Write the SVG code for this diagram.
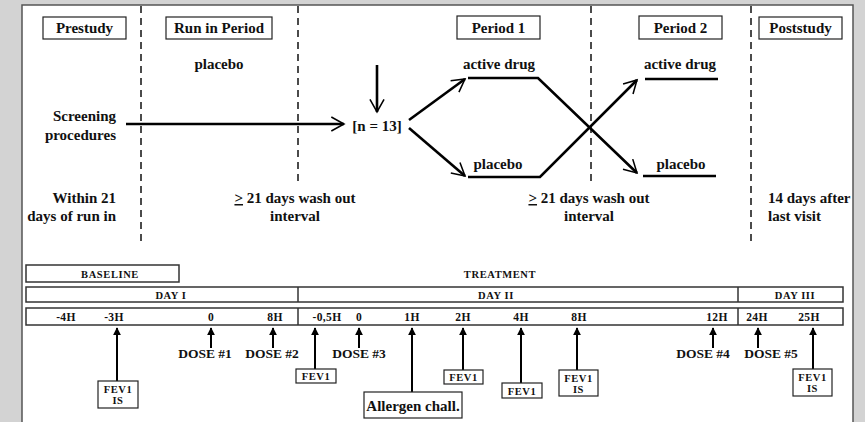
<svg xmlns="http://www.w3.org/2000/svg" width="865" height="422" viewBox="0 0 865 422">
<defs>
<style>
.hdr{font-family:"Liberation Serif",serif;font-weight:bold;font-size:15px;fill:#111}
.lbl{font-family:"Liberation Serif",serif;font-weight:bold;font-size:15px;fill:#111}
.sc{font-family:"Liberation Serif",serif;font-weight:bold;font-size:10.5px;fill:#111;letter-spacing:0.6px}
.hr{font-family:"Liberation Serif",serif;font-weight:bold;font-size:11.5px;fill:#111;letter-spacing:0.4px}
.dose{font-family:"Liberation Serif",serif;font-weight:bold;font-size:13.5px;fill:#111}
.box{fill:#fff;stroke:#222;stroke-width:1.2}
.bar{fill:#fff;stroke:#333;stroke-width:1.5}
.dash{stroke:#111;stroke-width:1.5;stroke-dasharray:7,5;fill:none}
.thick{stroke:#000;stroke-width:2.6;fill:none}
.thin{stroke:#000;stroke-width:2;fill:none}
</style>
<marker id="chev" viewBox="0 0 12 12" refX="10" refY="6" markerWidth="6.5" markerHeight="6.5" orient="auto" markerUnits="strokeWidth">
<path d="M1,1 L10,6 L1,11" fill="none" stroke="#000" stroke-width="1.1"/>
</marker>
<marker id="tri" viewBox="0 0 10 10" refX="9" refY="5" markerWidth="4" markerHeight="4" orient="auto" markerUnits="strokeWidth">
<path d="M0,0 L10,5 L0,10 z" fill="#000"/>
</marker>
</defs>
<rect x="0" y="0" width="865" height="422" fill="#d3d3d3"/>
<rect x="22" y="5" width="831" height="420" fill="#fff" stroke="#555" stroke-width="1.5"/>

<g id="dividers">
<line class="dash" x1="141" y1="6" x2="141" y2="246"/>
<line class="dash" x1="298" y1="6" x2="298" y2="186"/>
<line class="dash" x1="591" y1="6" x2="591" y2="186"/>
<line class="dash" x1="751" y1="6" x2="751" y2="246"/>
</g>

<g id="prestudy"><rect class="box" x="43" y="17" width="83" height="22"/><text class="hdr" x="84.5" y="33" text-anchor="middle">Prestudy</text></g>
<g id="runin"><rect class="box" x="166" y="17" width="106" height="22"/><text class="hdr" x="219" y="33" text-anchor="middle">Run in Period</text></g>
<g id="period1"><rect class="box" x="457" y="16" width="83" height="23"/><text class="hdr" x="498.5" y="33" text-anchor="middle">Period 1</text></g>
<g id="period2"><rect class="box" x="639" y="16" width="83" height="23"/><text class="hdr" x="680.5" y="33" text-anchor="middle">Period 2</text></g>
<g id="poststudy"><rect class="box" x="759" y="17" width="83" height="22"/><text class="hdr" x="800.5" y="33" text-anchor="middle">Poststudy</text></g>

<g id="placebo-run"><text class="lbl" x="219" y="69" text-anchor="middle">placebo</text></g>
<g id="screening"><text class="lbl" x="116" y="121" text-anchor="end">Screening</text><text class="lbl" x="116" y="140" text-anchor="end">procedures</text></g>
<g id="n13"><text class="lbl" x="377" y="131" text-anchor="middle" font-weight="normal">[n = 13]</text></g>
<g id="p1-active"><text class="lbl" x="499" y="69" text-anchor="middle">active drug</text></g>
<g id="p1-placebo"><text class="lbl" x="498" y="169" text-anchor="middle">placebo</text></g>
<g id="p2-active"><text class="lbl" x="680" y="69" text-anchor="middle">active drug</text></g>
<g id="p2-placebo"><text class="lbl" x="681" y="169" text-anchor="middle">placebo</text></g>
<g id="within21"><text class="lbl" x="116" y="203" text-anchor="end">Within 21</text><text class="lbl" x="116" y="221" text-anchor="end">days of run in</text></g>
<g id="washout1"><text class="lbl" x="295" y="203" text-anchor="middle"><tspan text-decoration="underline">&gt;</tspan> 21 days wash out</text><text class="lbl" x="295" y="221" text-anchor="middle">interval</text></g>
<g id="washout2"><text class="lbl" x="589" y="203" text-anchor="middle"><tspan text-decoration="underline">&gt;</tspan> 21 days wash out</text><text class="lbl" x="589" y="221" text-anchor="middle">interval</text></g>
<g id="after14"><text class="lbl" x="768" y="203">14 days after</text><text class="lbl" x="768" y="221">last visit</text></g>

<g id="connectors">
<line class="thick" x1="126" y1="124" x2="344" y2="124" marker-end="url(#chev)"/>
<line class="thick" x1="377" y1="65" x2="377" y2="112" marker-end="url(#chev)"/>
<line class="thick" x1="409" y1="120" x2="465" y2="79" marker-end="url(#chev)"/>
<line class="thick" x1="409" y1="128" x2="465" y2="176" marker-end="url(#chev)"/>
<polyline class="thick" points="468,78 538,78 637,173" marker-end="url(#chev)"/>
<polyline class="thick" points="468,177 540,177 637,80" marker-end="url(#chev)"/>
<line class="thick" x1="645" y1="79" x2="718" y2="79"/>
<line class="thick" x1="643" y1="176" x2="716" y2="176"/>

<line class="thin" x1="117" y1="381" x2="117" y2="328" marker-end="url(#tri)"/>
<line class="thin" x1="211" y1="348" x2="211" y2="328" marker-end="url(#tri)"/>
<line class="thin" x1="273" y1="348" x2="273" y2="328" marker-end="url(#tri)"/>
<line class="thin" x1="315" y1="369" x2="315" y2="328" marker-end="url(#tri)"/>
<line class="thin" x1="359" y1="348" x2="359" y2="328" marker-end="url(#tri)"/>
<line class="thin" x1="412" y1="392" x2="412" y2="328" marker-end="url(#tri)"/>
<line class="thin" x1="463" y1="370" x2="463" y2="328" marker-end="url(#tri)"/>
<line class="thin" x1="521" y1="383" x2="521" y2="328" marker-end="url(#tri)"/>
<line class="thin" x1="577" y1="370" x2="577" y2="328" marker-end="url(#tri)"/>
<line class="thin" x1="713" y1="348" x2="713" y2="328" marker-end="url(#tri)"/>
<line class="thin" x1="758" y1="348" x2="758" y2="328" marker-end="url(#tri)"/>
<line class="thin" x1="813" y1="369" x2="813" y2="328" marker-end="url(#tri)"/>
</g>

<g id="baseline"><rect class="bar" x="26" y="265" width="153" height="17"/><text class="sc" x="110" y="278" text-anchor="middle">BASELINE</text></g>
<g id="treatment"><text class="sc" x="500" y="278" text-anchor="middle">TREATMENT</text></g>
<g id="daybar">
<rect class="bar" x="26" y="287" width="817" height="15"/>
<line stroke="#333" stroke-width="1.5" x1="298" y1="287" x2="298" y2="302"/>
<line stroke="#333" stroke-width="1.5" x1="738" y1="287" x2="738" y2="302"/>
<text class="sc" x="171" y="299" text-anchor="middle">DAY I</text>
<text class="sc" x="496" y="299" text-anchor="middle">DAY II</text>
<text class="sc" x="795" y="299" text-anchor="middle">DAY III</text>
</g>
<g id="hourbar">
<rect class="bar" x="26" y="308" width="817" height="17" stroke="#777" stroke-width="2"/>
<line stroke="#333" stroke-width="1.5" x1="298" y1="308" x2="298" y2="325"/>
<line stroke="#333" stroke-width="1.5" x1="738" y1="308" x2="738" y2="325"/>
<text class="hr" x="66" y="321" text-anchor="middle">-4H</text>
<text class="hr" x="114" y="321" text-anchor="middle">-3H</text>
<text class="hr" x="211" y="321" text-anchor="middle">0</text>
<text class="hr" x="275" y="321" text-anchor="middle">8H</text>
<text class="hr" x="327" y="321" text-anchor="middle">-0,5H</text>
<text class="hr" x="359" y="321" text-anchor="middle">0</text>
<text class="hr" x="412" y="321" text-anchor="middle">1H</text>
<text class="hr" x="463" y="321" text-anchor="middle">2H</text>
<text class="hr" x="521" y="321" text-anchor="middle">4H</text>
<text class="hr" x="579" y="321" text-anchor="middle">8H</text>
<text class="hr" x="717" y="321" text-anchor="middle">12H</text>
<text class="hr" x="757" y="321" text-anchor="middle">24H</text>
<text class="hr" x="809" y="321" text-anchor="middle">25H</text>
</g>

<g id="dose1"><text class="dose" x="205" y="358" text-anchor="middle">DOSE #1</text></g>
<g id="dose2"><text class="dose" x="272" y="358" text-anchor="middle">DOSE #2</text></g>
<g id="dose3"><text class="dose" x="359" y="358" text-anchor="middle">DOSE #3</text></g>
<g id="dose4"><text class="dose" x="703" y="358" text-anchor="middle">DOSE #4</text></g>
<g id="dose5"><text class="dose" x="771" y="358" text-anchor="middle">DOSE #5</text></g>

<g id="fev-m3"><rect class="box" x="98" y="381" width="40" height="27"/><text class="sc" x="118" y="393" text-anchor="middle">FEV1</text><text class="sc" x="118" y="404" text-anchor="middle">IS</text></g>
<g id="fev-m05"><rect class="box" x="296" y="369" width="40" height="14"/><text class="sc" x="316" y="380" text-anchor="middle">FEV1</text></g>
<g id="allergen"><rect class="box" x="364" y="392" width="98" height="26"/><text class="lbl" x="413" y="411" text-anchor="middle" font-size="13.5">Allergen chall.</text></g>
<g id="fev-2h"><rect class="box" x="444" y="370" width="39" height="14"/><text class="sc" x="463.5" y="381" text-anchor="middle">FEV1</text></g>
<g id="fev-4h"><rect class="box" x="502" y="383" width="40" height="15"/><text class="sc" x="522" y="394.5" text-anchor="middle">FEV1</text></g>
<g id="fev-8h"><rect class="box" x="559" y="370" width="39" height="26"/><text class="sc" x="578.5" y="382" text-anchor="middle">FEV1</text><text class="sc" x="578.5" y="393" text-anchor="middle">IS</text></g>
<g id="fev-25h"><rect class="box" x="793" y="369" width="39" height="27"/><text class="sc" x="812.5" y="381" text-anchor="middle">FEV1</text><text class="sc" x="812.5" y="392" text-anchor="middle">IS</text></g>
</svg>
